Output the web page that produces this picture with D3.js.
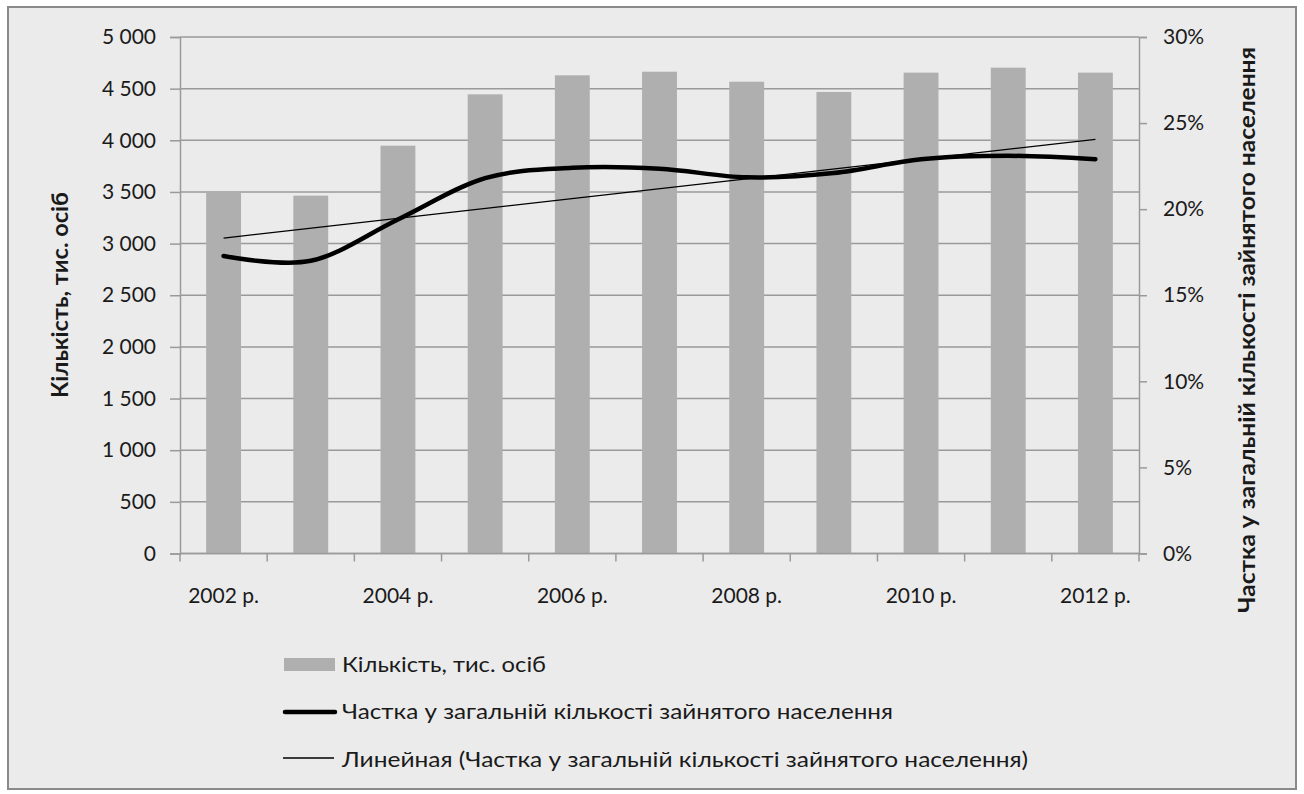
<!DOCTYPE html>
<html>
<head>
<meta charset="utf-8">
<script src="https://cdn.jsdelivr.net/npm/d3@7"></script>
<style>
  html, body { margin: 0; padding: 0; background: #ffffff; }
  svg { display: block; }
  text { font-family: Lato, "Open Sans", "Noto Sans", sans-serif; fill: #1a1a1a; }
</style>
</head>
<body>
<svg id="chart" width="1304" height="794"></svg>
<script>
// Employment data, 2002–2012
const years = ["2002 р.", "2003 р.", "2004 р.", "2005 р.", "2006 р.", "2007 р.",
               "2008 р.", "2009 р.", "2010 р.", "2011 р.", "2012 р."];
const headcount = [3497, 3464, 3948, 4445, 4629, 4664, 4567, 4468, 4655, 4703, 4655];   // тис. осіб
const share = [0.1728, 0.1700, 0.1940, 0.2180, 0.2240, 0.2235, 0.2185, 0.2210, 0.2290, 0.2310, 0.2290];
const leftTicks = [0, 500, 1000, 1500, 2000, 2500, 3000, 3500, 4000, 4500, 5000];
const rightTicks = [0, 0.05, 0.10, 0.15, 0.20, 0.25, 0.30];
const shownYearLabels = ["2002 р.", "2004 р.", "2006 р.", "2008 р.", "2010 р.", "2012 р."];

const legendItems = [
  "Кількість, тис. осіб",
  "Частка у загальній кількості зайнятого населення",
  "Линейная (Частка у загальній кількості зайнятого населення)"
];
const leftTitle = "Кількість, тис. осіб";
const rightTitle = "Частка у загальній кількості зайнятого населення";

const svg = d3.select("#chart");

// chart area frame
svg.append("rect")
  .attr("x", 8).attr("y", 7).attr("width", 1288).attr("height", 782)
  .attr("fill", "#ebebeb").attr("stroke", "#8a8a8a").attr("stroke-width", 2);

const plot = { left: 180, right: 1139, top: 37, bottom: 553.5 };

const x = d3.scaleBand().domain(years)
  .range([plot.left, plot.right]).paddingInner(0.6).paddingOuter(0.3);
const yL = d3.scaleLinear().domain([0, 5000]).range([plot.bottom, plot.top]);
const yR = d3.scaleLinear().domain([0, 0.30]).range([plot.bottom, plot.top]);
const cx = d => x(d) + x.bandwidth() / 2;

const locale = d3.formatLocale({ decimal: ",", thousands: "\u00a0", grouping: [3], currency: ["", ""] });
const fmtLeft = locale.format(",d");
const fmtRight = d3.format(".0%");

const gridColor = "#9a9a9a";

// horizontal gridlines
svg.append("g").selectAll("line").data(leftTicks).join("line")
  .attr("x1", plot.left).attr("x2", plot.right)
  .attr("y1", d => yL(d)).attr("y2", d => yL(d))
  .attr("stroke", gridColor).attr("stroke-width", 1.5);

// bars
svg.append("g").selectAll("rect").data(years).join("rect")
  .attr("x", d => x(d))
  .attr("width", x.bandwidth())
  .attr("y", (d, i) => yL(headcount[i]))
  .attr("height", (d, i) => yL(0) - yL(headcount[i]))
  .attr("fill", "#afafaf");

// left axis
const gL = svg.append("g").attr("transform", `translate(${plot.left},0)`)
  .call(d3.axisLeft(yL).tickValues(leftTicks).tickFormat(fmtLeft).tickSize(10).tickPadding(14));
// right axis
const gR = svg.append("g").attr("transform", `translate(${plot.right},0)`)
  .call(d3.axisRight(yR).tickValues(rightTicks).tickFormat(fmtRight).tickSize(8).tickPadding(16));
[gL, gR].forEach(g => {
  g.select(".domain").attr("stroke", gridColor).attr("stroke-width", 1.5);
  g.selectAll(".tick line").attr("stroke", gridColor).attr("stroke-width", 1.5);
  g.selectAll(".tick text").attr("font-size", 21).attr("font-family", "Lato, 'Open Sans', sans-serif")
    .attr("fill", "#1a1a1a");
});

// bottom axis: baseline plus ticks on category boundaries
svg.append("line")
  .attr("x1", plot.left).attr("x2", plot.right)
  .attr("y1", plot.bottom).attr("y2", plot.bottom)
  .attr("stroke", gridColor).attr("stroke-width", 1.5);
const boundaries = years.map(d => cx(d) - x.step() / 2).concat([cx(years[years.length - 1]) + x.step() / 2]);
svg.append("g").selectAll("line").data(boundaries).join("line")
  .attr("x1", d => d).attr("x2", d => d)
  .attr("y1", plot.bottom).attr("y2", plot.bottom + 8)
  .attr("stroke", gridColor).attr("stroke-width", 1.5);
svg.append("g").selectAll("text").data(shownYearLabels).join("text")
  .attr("x", d => cx(d)).attr("y", 603)
  .attr("text-anchor", "middle").attr("font-size", 21)
  .text(d => d);

// linear trend of the share series (least squares)
const n = share.length;
const xs = d3.range(n);
const mx = d3.mean(xs), my = d3.mean(share);
const slope = d3.sum(xs, i => (i - mx) * (share[i] - my)) / d3.sum(xs, i => (i - mx) ** 2);
const intercept = my - slope * mx;
svg.append("line")
  .attr("x1", cx(years[0])).attr("y1", yR(intercept))
  .attr("x2", cx(years[n - 1])).attr("y2", yR(intercept + slope * (n - 1)))
  .attr("stroke", "#000").attr("stroke-width", 1.3);

// smoothed share line
const line = d3.line()
  .x((d, i) => cx(years[i]))
  .y(d => yR(d))
  .curve(d3.curveCardinal.tension(0));
svg.append("path").datum(share)
  .attr("d", line)
  .attr("fill", "none").attr("stroke", "#000").attr("stroke-width", 4.5)
  .attr("stroke-linejoin", "round").attr("stroke-linecap", "round");

// axis titles
svg.append("text")
  .attr("transform", `translate(68,295) rotate(-90)`)
  .attr("text-anchor", "middle").attr("font-size", 22).attr("font-weight", "bold")
  .attr("textLength", 206).attr("lengthAdjust", "spacingAndGlyphs")
  .text(leftTitle);
svg.append("text")
  .attr("transform", `translate(1255,330) rotate(-90)`)
  .attr("text-anchor", "middle").attr("font-size", 22).attr("font-weight", "bold")
  .attr("textLength", 566).attr("lengthAdjust", "spacingAndGlyphs")
  .text(rightTitle);

// legend
const legend = svg.append("g");
const legendRows = [672, 719, 767];
const legendWidths = [204, 551, 686];
legend.append("rect")
  .attr("x", 284).attr("y", legendRows[0] - 14).attr("width", 51).attr("height", 13)
  .attr("fill", "#afafaf");
legend.append("line")
  .attr("x1", 285).attr("x2", 335).attr("y1", legendRows[1] - 7).attr("y2", legendRows[1] - 7)
  .attr("stroke", "#000").attr("stroke-width", 4.5).attr("stroke-linecap", "round");
legend.append("line")
  .attr("x1", 283).attr("x2", 334).attr("y1", legendRows[2] - 9).attr("y2", legendRows[2] - 9)
  .attr("stroke", "#000").attr("stroke-width", 1.3);
legend.selectAll("text").data(legendItems).join("text")
  .attr("x", 342).attr("y", (d, i) => legendRows[i])
  .attr("font-size", 22)
  .attr("textLength", (d, i) => legendWidths[i]).attr("lengthAdjust", "spacingAndGlyphs")
  .text(d => d);
</script>
</body>
</html>
